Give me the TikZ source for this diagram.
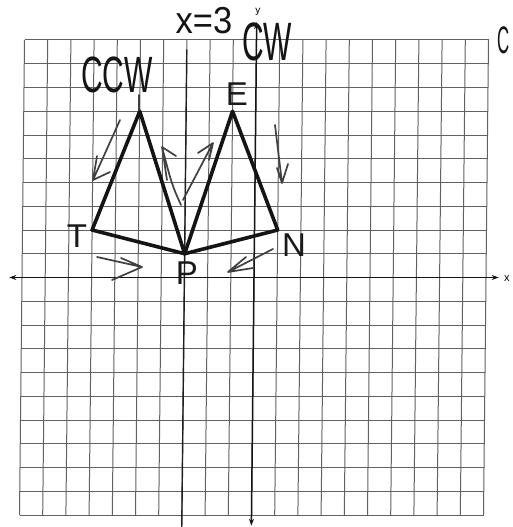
\documentclass[tikz,border=0pt]{standalone}
\usepackage{fontspec}
\setmainfont{Liberation Sans}
\usetikzlibrary{arrows.meta}
\begin{document}
\begin{tikzpicture}[x=1pt,y=-1pt,
  gridline/.style={draw=black!62,line width=1pt},
  axisline/.style={draw=black!92,line width=1.5pt},
  refl/.style={draw=black!88,line width=1.4pt},
  tri/.style={draw=black!92,line width=3.6pt,line join=round,line cap=round},
  hand/.style={draw=black!75,line width=1.7pt,line cap=round,line join=round},
  lbl/.style={inner sep=0pt,font=\fontsize{33}{33}\selectfont,text=black!90},
  script/.style={inner sep=0pt,font=\fontsize{30}{30}\selectfont,text=black!92}]
\useasboundingbox (0,0) rectangle (512,527);
\fill[white] (0,0) rectangle (512,527);
\begin{scope}[shift={(254,277.5)},x={(23.2pt,0pt)},y={(0.25pt,23.75pt)}]
  \foreach \i in {-10,...,10}{
    \draw[gridline] (\i,-10) -- (\i,10);
    \draw[gridline] (-10,\i) -- (10,\i);
  }
  \coordinate (xl) at (-10.55,0);
  \coordinate (xr) at (10.55,0);
  \coordinate (yt) at (0,10.75);
  \coordinate (yb) at (0,-10.45);
  \draw[axisline,{Stealth[length=7pt,width=5pt]}-{Stealth[length=7pt,width=5pt]}] (xl) -- (xr);
  \draw[axisline,{Stealth[length=7pt,width=5pt]}-{Stealth[length=7pt,width=5pt]}] (yb) -- (yt);
  \node[inner sep=0pt,font=\fontsize{11}{11}\selectfont] (xlab) at (10.9,-0.05) {x};
  \node[inner sep=0pt,font=\fontsize{10}{10}\selectfont] (ylab) at (0.05,11.2) {y};
  \coordinate (mt) at (-3,9.6);
  \coordinate (mb) at (-3,-10.6);
  \draw[refl] (mt) -- (mb);
  \coordinate (A) at (-5,7);
  \coordinate (T) at (-7,2);
  \coordinate (P) at (-3,1);
  \coordinate (E) at (-1,7);
  \coordinate (N) at (1,2);
  \draw[tri] (A) -- (T) -- (P) -- cycle;
  \draw[tri] (E) -- (N) -- (P) -- cycle;
\end{scope}
% vertex labels
\node[lbl] (lE) at (237,94) {E};
\node[lbl] (lT) at (77,236) {T};
\node[lbl] (lP) at (187,273) {P};
\node[lbl] (lN) at (294,245) {N};
% handwritten notes
\node[script,xscale=1.15,yscale=1.25] (h3) at (204,21) {x=3};
\node[script,yscale=1.7] (hccw) at (117,75) {CCW};
\node[script,yscale=1.8] (hcw) at (267,42) {CW};
\node[script,font=\fontsize{24}{24}\selectfont,xscale=0.7,yscale=1.6] (hc) at (504,40) {C};
\coordinate (tk1) at (139,95);
\coordinate (tk2) at (139,110);
\draw[hand] (tk1) -- (tk2);
% hand drawn direction arrows
\coordinate (a1s) at (120,120); \coordinate (a1t) at (93,180);
\coordinate (a1b) at (110,172); \coordinate (a1c) at (97,156);
\draw[hand] (a1s) -- (a1t) -- (a1b) (a1t) -- (a1c);
\coordinate (a2s) at (181,205); \coordinate (a2t) at (162,147);
\coordinate (a2b) at (176,156); \coordinate (a2c) at (167,180);
\draw[hand] (a2s) .. controls (172,185) .. (a2t) -- (a2b) (a2t) -- (a2c);
\coordinate (a3s) at (97,257); \coordinate (a3t) at (142,267);
\coordinate (a3b) at (121,258); \coordinate (a3c) at (112,280);
\draw[hand] (a3s) .. controls (120,262) .. (a3t) -- (a3b) (a3t) -- (a3c);
\coordinate (a4s) at (183,200); \coordinate (a4t) at (213,143);
\coordinate (a4b) at (198,153); \coordinate (a4c) at (209,160);
\draw[hand] (a4s) -- (a4t) -- (a4b) (a4t) -- (a4c);
\coordinate (a5s) at (275,125); \coordinate (a5t) at (282,183);
\coordinate (a5b) at (277,168); \coordinate (a5c) at (288,164);
\draw[hand] (a5s) -- (a5t) -- (a5b) (a5t) -- (a5c);
\coordinate (a6s) at (273,249); \coordinate (a6t) at (228,272);
\coordinate (a6b) at (246,257); \coordinate (a6c) at (253,268);
\draw[hand] (a6s) -- (a6t) -- (a6b) (a6t) -- (a6c);
\end{tikzpicture}
\end{document}
